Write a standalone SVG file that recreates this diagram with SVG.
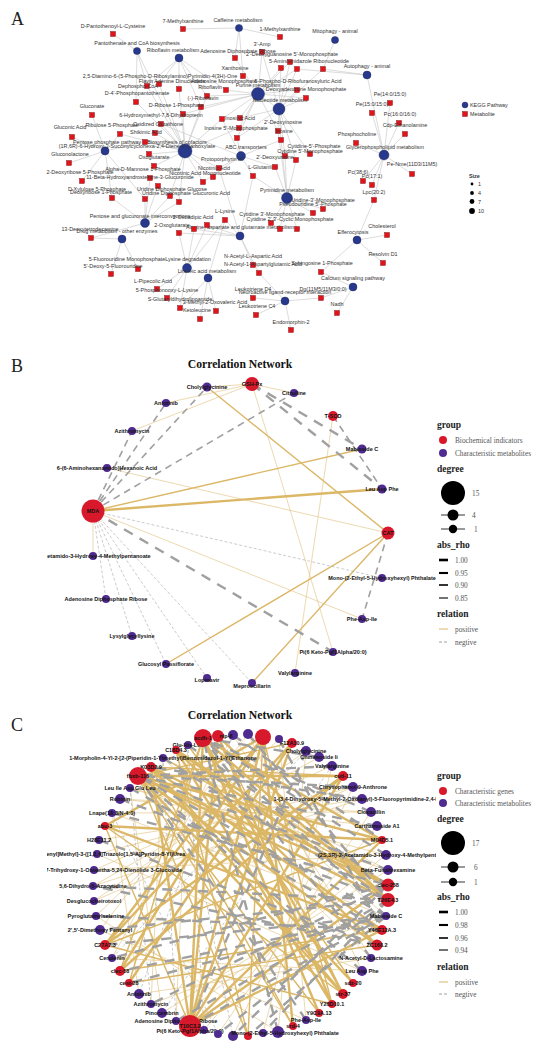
<svg xmlns="http://www.w3.org/2000/svg" width="550" height="1063" viewBox="0 0 550 1063">
<style>
.bg{fill:#fff}
.pl{font-family:"Liberation Serif",serif;font-size:18px;fill:#222}
.al{font-family:"Liberation Sans",Arial,sans-serif;font-size:5.4px;fill:#333;text-anchor:middle}
.ae{stroke:#c4c4c4;stroke-width:0.6;fill:none}
.sq{fill:#e3131b;stroke:#6d0b0b;stroke-width:0.4}
.pw{fill:#28398b;stroke:#16225a;stroke-width:0.4}
.tt{font-family:"Liberation Serif",serif;font-weight:bold;font-size:11.7px;text-anchor:middle;fill:#111}
.nl{font-family:"Liberation Sans",Arial,sans-serif;font-weight:bold;font-size:5.5px;text-anchor:middle;fill:#111}
.rd{fill:#d8192b}
.pu{fill:#4f2a8f}
.p3{stroke:#dbb766;stroke-width:2.4;fill:none}
.p2{stroke:#dbb766;stroke-width:1.4;fill:none}
.p1{stroke:#dfc07a;stroke-width:0.6;fill:none}
.n3{stroke:#a0a0a0;stroke-width:2.4;stroke-dasharray:10 8;fill:none}
.n2{stroke:#a0a0a0;stroke-width:1.6;stroke-dasharray:7 5;fill:none}
.n1{stroke:#a8a8a8;stroke-width:0.6;stroke-dasharray:3 2;fill:none}
.lt{font-family:"Liberation Serif",serif;font-weight:bold;font-size:9.5px;fill:#222}
.ll{font-family:"Liberation Serif",serif;font-size:7.3px;fill:#555}
.sl{font-family:"Liberation Sans",Arial,sans-serif;font-size:5.4px;fill:#333}
</style>
<defs>
<clipPath id="cb"><rect x="47" y="372" width="389" height="330"/></clipPath>
<clipPath id="cc"><rect x="47" y="722" width="389" height="330"/></clipPath>
</defs>
<rect class="bg" x="0" y="0" width="550" height="1063"/>

<!-- ================= PANEL A ================= -->
<text class="pl" x="11" y="25">A</text>
<g id="a-edges">
<path class="ae" d="M239 28L183 29M239 28L280 37M239 28L243 76M239 28L235 58"/>
<path class="ae" d="M137 51L113 34M137 51L136 102M137 51L147 86M137 51L185 151"/>
<path class="ae" d="M179 58L159 84M179 58L179 89M179 58L207 96M179 58L147 86M179 58L201 107M179 58L226 90"/>
<path class="ae" d="M335 40L323 69M367 75L323 69M367 75L297 69M367 75L384 155"/>
<path class="ae" d="M258 94L235 58M258 94L262 52M258 94L290 62M258 94L281 68M258 94L297 69M258 94L243 76M258 94L226 90M258 94L297 90M258 94L306 98M258 94L222 119M258 94L240 118M258 94L239 128M258 94L278 131M258 94L237 138M258 94L207 96M258 94L201 107M258 94L183 114M258 94L279 109"/>
<path class="ae" d="M279 109L262 52M279 109L290 62M279 109L281 68M279 109L297 69M279 109L297 90M279 109L306 98M279 109L278 131M279 109L281 140M279 109L237 138M279 109L285 156M279 109L296 160M279 109L310 154M279 109L323 69M279 109L240 118"/>
<path class="ae" d="M241 156L219 168M241 156L253 176M241 156L275 167M241 156L222 119M241 156L237 138M241 156L161 124M241 156L203 182M241 156L281 140"/>
<path class="ae" d="M185 151L147 86M185 151L159 84M185 151L179 89M185 151L207 96M185 151L201 107M185 151L183 114M185 151L161 124M185 151L155 133M185 151L145 142M185 151L149 154M185 151L154 166M185 151L203 182M185 151L213 177M185 151L219 168M185 151L136 102M185 151L222 119M185 151L120 134M185 151L170 196M185 151L179 202M185 151L239 128"/>
<path class="ae" d="M105 151L92 115M105 151L72 137M105 151L69 163M105 151L120 134M105 151L82 181M105 151L145 142M105 151L112 198M105 151L145 199"/>
<path class="ae" d="M145 223L112 198M145 223L145 199M145 223L170 196M145 223L179 202M145 223L158 186M145 223L150 178M145 223L91 238"/>
<path class="ae" d="M122 239L91 238M122 239L138 269M122 239L111 274"/>
<path class="ae" d="M240 236L207 225M240 236L194 229M240 236L179 233M240 236L253 176M240 236L253 265M240 236L259 273M240 236L225 220M240 236L219 168"/>
<path class="ae" d="M287 198L275 167M287 198L285 156M287 198L296 160M287 198L253 176M287 198L323 209M287 198L313 213M287 198L271 223M287 198L280 229M287 198L297 229M287 198L278 131M287 198L281 140"/>
<path class="ae" d="M187 268L225 220M187 268L179 233M187 268L194 229M187 268L157 289M187 268L167 298M187 268L180 308M187 268L207 225M208 278L200 319M208 278L216 311M208 278L180 308M208 278L225 220"/>
<path class="ae" d="M384 155L372 113M384 155L390 103M384 155L399 123M384 155L405 134M384 155L356 143M384 155L412 174M384 155L363 181M384 155L372 185M384 155L374 200"/>
<path class="ae" d="M357 240L374 200M357 240L387 235M357 240L383 263M357 240L321 272M353 287L321 272M353 287L321 298M353 287L337 313"/>
<path class="ae" d="M285 301L253 298M285 301L256 315M285 301L291 330M285 301L259 273M285 301L321 298"/>
</g>

<g id="a-nodes">
<g id="a-caffeine"><circle class="pw" cx="239" cy="28" r="3.6"/><text class="al" x="238" y="22">Caffeine metabolism</text></g>
<g id="a-pantothenate"><circle class="pw" cx="137" cy="51" r="3.6"/><text class="al" x="137" y="45">Pantothenate and CoA biosynthesis</text></g>
<g id="a-riboflavin-met"><circle class="pw" cx="179" cy="58" r="4"/><text class="al" x="173" y="52">Riboflavin metabolism</text></g>
<g id="a-mitophagy"><circle class="pw" cx="335" cy="40" r="3.6"/><text class="al" x="335" y="33">Mitophagy - animal</text></g>
<g id="a-autophagy"><circle class="pw" cx="367" cy="75" r="4"/><text class="al" x="367" y="68">Autophagy - animal</text></g>
<g id="a-purine"><circle class="pw" cx="258" cy="94" r="6.5"/><text class="al" x="258" y="87">Purine metabolism</text></g>
<g id="a-nucleotide"><circle class="pw" cx="279" cy="109" r="6"/><text class="al" x="280" y="102">Nucleotide metabolism</text></g>
<g id="a-cofactors"><circle class="pw" cx="185" cy="151" r="7"/><text class="al" x="177" y="144">Biosynthesis of cofactors</text></g>
<g id="a-ppp"><circle class="pw" cx="105" cy="151" r="4"/><text class="al" x="107" y="144">Pentose phosphate pathway</text></g>
<g id="a-abc"><circle class="pw" cx="241" cy="156" r="4.5"/><text class="al" x="246" y="149">ABC transporters</text></g>
<g id="a-pyrimidine"><circle class="pw" cx="287" cy="198" r="5.5"/><text class="al" x="287" y="192">Pyrimidine metabolism</text></g>
<g id="a-pentose-gluc"><circle class="pw" cx="145" cy="223" r="4.5"/><text class="al" x="140" y="218">Pentose and glucuronate interconversions</text></g>
<g id="a-drug"><circle class="pw" cx="122" cy="239" r="4"/><text class="al" x="117" y="233">Drug metabolism - other enzymes</text></g>
<g id="a-alanine"><circle class="pw" cx="240" cy="236" r="4"/><text class="al" x="240" y="229">Alanine, aspartate and glutamate metabolism</text></g>
<g id="a-lysine"><circle class="pw" cx="187" cy="268" r="4.5"/><text class="al" x="188" y="261">Lysine degradation</text></g>
<g id="a-linoleic"><circle class="pw" cx="208" cy="278" r="4"/><text class="al" x="207" y="273">Linoleic acid metabolism</text></g>
<g id="a-glycero"><circle class="pw" cx="384" cy="155" r="5"/><text class="al" x="385" y="149">Glycerophospholipid metabolism</text></g>
<g id="a-efferocytosis"><circle class="pw" cx="357" cy="240" r="4"/><text class="al" x="353" y="234">Efferocytosis</text></g>
<g id="a-calcium"><circle class="pw" cx="353" cy="287" r="4"/><text class="al" x="353" y="280">Calcium signaling pathway</text></g>
<g id="a-neuro"><circle class="pw" cx="285" cy="301" r="4"/><text class="al" x="285" y="294">Neuroactive ligand-receptor interaction</text></g>

<g id="a-m1"><rect class="sq" x="110.5" y="31.5" width="5" height="5"/><text class="al" x="113" y="28">D-Pantothenoyl-L-Cysteine</text></g>
<g id="a-m2"><rect class="sq" x="180.5" y="26.5" width="5" height="5"/><text class="al" x="183" y="23">7-Methylxanthine</text></g>
<g id="a-m3"><rect class="sq" x="277.5" y="34.5" width="5" height="5"/><text class="al" x="280" y="31">1-Methylxanthine</text></g>
<g id="a-m4"><rect class="sq" x="259.5" y="49.5" width="5" height="5"/><text class="al" x="262" y="46">3'-Amp</text></g>
<g id="a-m5"><rect class="sq" x="232.5" y="55.5" width="5" height="5"/><text class="al" x="238" y="53">Adenosine Diphosphate Ribose</text></g>
<g id="a-m6"><rect class="sq" x="287.5" y="59.5" width="5" height="5"/><text class="al" x="292" y="56">2'-Deoxyguanosine 5'-Monophosphate</text></g>
<g id="a-m7"><rect class="sq" x="294.5" y="66.5" width="5" height="5"/><text class="al" x="309" y="63">5-Aminoimidazole Ribonucleotide</text></g>
<g id="a-m8"><rect class="sq" x="278.5" y="65.5" width="5" height="5"/></g>
<g id="a-m9"><rect class="sq" x="320.5" y="66.5" width="5" height="5"/></g>
<g id="a-m10"><rect class="sq" x="240.5" y="73.5" width="5" height="5"/><text class="al" x="235" y="70">Xanthosine</text></g>
<g id="a-m11"><rect class="sq" x="156.5" y="81.5" width="5" height="5"/><text class="al" x="160" y="78">2,5-Diamino-6-(5-Phospho-D-Ribosylamino)Pyrimidin-4(3H)-One</text></g>
<g id="a-m12"><rect class="sq" x="176.5" y="86.5" width="5" height="5"/><text class="al" x="172" y="83">Flavin Adenine Dinucleotide</text></g>
<g id="a-m13"><rect class="sq" x="144.5" y="83.5" width="5" height="5"/><text class="al" x="138" y="88">Dephospho-CoA</text></g>
<g id="a-m14"><rect class="sq" x="223.5" y="87.5" width="5" height="5"/><text class="al" x="224" y="83">Adenosine Monophosphate</text></g>
<g id="a-m15"><rect class="sq" x="204.5" y="93.5" width="5" height="5"/><text class="al" x="210" y="89">Riboflavin</text></g>
<g id="a-m16"><rect class="sq" x="198.5" y="104.5" width="5" height="5"/><text class="al" x="203" y="100">(-)-Riboflavin</text></g>
<g id="a-m17"><rect class="sq" x="133.5" y="99.5" width="5" height="5"/><text class="al" x="137" y="95">D-4'-Phosphopantothenate</text></g>
<g id="a-m18"><rect class="sq" x="180.5" y="111.5" width="5" height="5"/><text class="al" x="176" y="107">D-Ribose 1-Phosphate</text></g>
<g id="a-m19"><rect class="sq" x="89.5" y="112.5" width="5" height="5"/><text class="al" x="92" y="108">Gluconate</text></g>
<g id="a-m20"><rect class="sq" x="158.5" y="121.5" width="5" height="5"/><text class="al" x="161" y="117">6-Hydroxymethyl-7,8-Dihydropterin</text></g>
<g id="a-m21"><rect class="sq" x="152.5" y="130.5" width="5" height="5"/><text class="al" x="158" y="126">Oxidized Glutathione</text></g>
<g id="a-m22"><rect class="sq" x="142.5" y="139.5" width="5" height="5"/><text class="al" x="146" y="134">Shikimic Acid</text></g>
<g id="a-m23"><rect class="sq" x="146.5" y="151.5" width="5" height="5"/><text class="al" x="137" y="148">(1R,6R)-6-Hydroxy-2-Succinylcyclohexa-2,4-Diene-1-Carboxylate</text></g>
<g id="a-m24"><rect class="sq" x="69.5" y="134.5" width="5" height="5"/><text class="al" x="70" y="129">Gluconic Acid</text></g>
<g id="a-m25"><rect class="sq" x="117.5" y="131.5" width="5" height="5"/><text class="al" x="112" y="127">Ribulose 5-Phosphate</text></g>
<g id="a-m26"><rect class="sq" x="66.5" y="160.5" width="5" height="5"/><text class="al" x="70" y="156">Gluconolactone</text></g>
<g id="a-m27"><rect class="sq" x="151.5" y="163.5" width="5" height="5"/><text class="al" x="154" y="159">Oxoglutarate</text></g>
<g id="a-m28"><rect class="sq" x="147.5" y="175.5" width="5" height="5"/><text class="al" x="143" y="171">Alpha-D-Mannose 1-Phosphate</text></g>
<g id="a-m29"><rect class="sq" x="155.5" y="183.5" width="5" height="5"/><text class="al" x="140" y="179">11-Beta-Hydroxyandrosterone-3-Glucuronide</text></g>
<g id="a-m30"><rect class="sq" x="79.5" y="178.5" width="5" height="5"/><text class="al" x="80" y="174">2-Deoxyribose 5-Phosphate</text></g>
<g id="a-m31"><rect class="sq" x="109.5" y="195.5" width="5" height="5"/><text class="al" x="97" y="191">D-Xylulose 5-Phosphate</text></g>
<g id="a-m32"><rect class="sq" x="142.5" y="196.5" width="5" height="5"/><text class="al" x="101" y="194">Deoxyribose 1-Phosphate</text></g>
<g id="a-m33"><rect class="sq" x="167.5" y="193.5" width="5" height="5"/><text class="al" x="172" y="191">Uridine Diphosphate Glucose</text></g>
<g id="a-m34"><rect class="sq" x="176.5" y="199.5" width="5" height="5"/><text class="al" x="186" y="195">Uridine Diphosphate Glucuronic Acid</text></g>
<g id="a-m35"><rect class="sq" x="216.5" y="165.5" width="5" height="5"/><text class="al" x="222" y="161">Protoporphyrin IX</text></g>
<g id="a-m36"><rect class="sq" x="210.5" y="174.5" width="5" height="5"/><text class="al" x="214" y="170">Nicotinic Acid</text></g>
<g id="a-m37"><rect class="sq" x="200.5" y="179.5" width="5" height="5"/><text class="al" x="205" y="175">Nicotinic Acid Mononucleotide</text></g>
<g id="a-m38"><rect class="sq" x="250.5" y="173.5" width="5" height="5"/><text class="al" x="263" y="169">L-Glutamine</text></g>
<g id="a-m39"><rect class="sq" x="237.5" y="115.5" width="5" height="5"/><text class="al" x="240" y="120">Inosinic Acid</text></g>
<g id="a-m40"><rect class="sq" x="219.5" y="116.5" width="5" height="5"/></g>
<g id="a-m41"><rect class="sq" x="236.5" y="125.5" width="5" height="5"/><text class="al" x="236" y="130">Inosine 5'-Monophosphate</text></g>
<g id="a-m42"><rect class="sq" x="234.5" y="135.5" width="5" height="5"/></g>
<g id="a-m43"><rect class="sq" x="275.5" y="128.5" width="5" height="5"/><text class="al" x="283" y="124">2'-Deoxyinosine</text></g>
<g id="a-m44"><rect class="sq" x="278.5" y="137.5" width="5" height="5"/><text class="al" x="284" y="133">Inosine</text></g>
<g id="a-m45"><rect class="sq" x="294.5" y="87.5" width="5" height="5"/><text class="al" x="306" y="91">Deoxyadenosine Monophosphate</text></g>
<g id="a-m46"><rect class="sq" x="303.5" y="95.5" width="5" height="5"/><text class="al" x="298" y="83">5-Phospho-D-Ribofuranosyluric Acid</text></g>
<g id="a-m47"><rect class="sq" x="307.5" y="151.5" width="5" height="5"/><text class="al" x="314" y="148">Cytidine-5'-Phosphate</text></g>
<g id="a-m48"><rect class="sq" x="293.5" y="157.5" width="5" height="5"/><text class="al" x="310" y="153">Cytidine 5'-Monophosphate</text></g>
<g id="a-m49"><rect class="sq" x="282.5" y="153.5" width="5" height="5"/><text class="al" x="275" y="159">2'-Deoxyuridine</text></g>
<g id="a-m50"><rect class="sq" x="272.5" y="164.5" width="5" height="5"/></g>
<g id="a-m51"><rect class="sq" x="387.5" y="100.5" width="5" height="5"/><text class="al" x="390" y="96">Pe(14:0/15:0)</text></g>
<g id="a-m52"><rect class="sq" x="369.5" y="110.5" width="5" height="5"/><text class="al" x="372" y="106">Pe(15:0/15:0)</text></g>
<g id="a-m53"><rect class="sq" x="396.5" y="120.5" width="5" height="5"/><text class="al" x="400" y="116">Pc(16:0/16:0)</text></g>
<g id="a-m54"><rect class="sq" x="402.5" y="131.5" width="5" height="5"/><text class="al" x="405" y="127">Cdp-Ethanolamine</text></g>
<g id="a-m55"><rect class="sq" x="353.5" y="140.5" width="5" height="5"/><text class="al" x="357" y="136">Phosphocholine</text></g>
<g id="a-m56"><rect class="sq" x="409.5" y="171.5" width="5" height="5"/><text class="al" x="412" y="166">Pe-Nme(11D3/11M5)</text></g>
<g id="a-m57"><rect class="sq" x="360.5" y="178.5" width="5" height="5"/><text class="al" x="358" y="174">Pc(38:6)</text></g>
<g id="a-m58"><rect class="sq" x="369.5" y="182.5" width="5" height="5"/><text class="al" x="372" y="178">Pc(17:1)</text></g>
<g id="a-m59"><rect class="sq" x="371.5" y="197.5" width="5" height="5"/><text class="al" x="374" y="194">Lpc(20:2)</text></g>
<g id="a-m60"><rect class="sq" x="320.5" y="206.5" width="5" height="5"/><text class="al" x="323" y="202">Uridine-3'-Monophosphate</text></g>
<g id="a-m61"><rect class="sq" x="310.5" y="210.5" width="5" height="5"/><text class="al" x="313" y="206">Pseudouridine 5'-Phosphate</text></g>
<g id="a-m62"><rect class="sq" x="268.5" y="220.5" width="5" height="5"/><text class="al" x="272" y="216">Cytidine 3'-Monophosphate</text></g>
<g id="a-m63"><rect class="sq" x="277.5" y="226.5" width="5" height="5"/><text class="al" x="290" y="221">Cytidine 2',3'-Cyclic Monophosphate</text></g>
<g id="a-m64"><rect class="sq" x="294.5" y="226.5" width="5" height="5"/></g>
<g id="a-m65"><rect class="sq" x="222.5" y="217.5" width="5" height="5"/><text class="al" x="225" y="213">L-Lysine</text></g>
<g id="a-m66"><rect class="sq" x="204.5" y="222.5" width="5" height="5"/><text class="al" x="193" y="219">2-Oxoadipic Acid</text></g>
<g id="a-m67"><rect class="sq" x="191.5" y="226.5" width="5" height="5"/></g>
<g id="a-m68"><rect class="sq" x="176.5" y="230.5" width="5" height="5"/><text class="al" x="172" y="227">2-Oxoglutarate</text></g>
<g id="a-m69"><rect class="sq" x="88.5" y="235.5" width="5" height="5"/><text class="al" x="90" y="231">13-Deoxytetrodecamine</text></g>
<g id="a-m70"><rect class="sq" x="135.5" y="266.5" width="5" height="5"/><text class="al" x="127" y="261">5-Fluorouridine Monophosphate</text></g>
<g id="a-m71"><rect class="sq" x="108.5" y="271.5" width="5" height="5"/><text class="al" x="113" y="268">5'-Deoxy-5-Fluorouridine</text></g>
<g id="a-m72"><rect class="sq" x="154.5" y="286.5" width="5" height="5"/><text class="al" x="153" y="283">L-Pipecolic Acid</text></g>
<g id="a-m73"><rect class="sq" x="164.5" y="295.5" width="5" height="5"/><text class="al" x="167" y="292">5-Phosphonooxy-L-Lysine</text></g>
<g id="a-m74"><rect class="sq" x="177.5" y="305.5" width="5" height="5"/><text class="al" x="180" y="301">S-Glutaryldihydrolipoamide</text></g>
<g id="a-m75"><rect class="sq" x="213.5" y="308.5" width="5" height="5"/><text class="al" x="215" y="304">3-Methyl-2-Oxovaleric Acid</text></g>
<g id="a-m76"><rect class="sq" x="197.5" y="316.5" width="5" height="5"/><text class="al" x="197" y="312">Ketoleucine</text></g>
<g id="a-m77"><rect class="sq" x="250.5" y="262.5" width="5" height="5"/><text class="al" x="253" y="258">N-Acetyl-L-Aspartic Acid</text></g>
<g id="a-m78"><rect class="sq" x="256.5" y="270.5" width="5" height="5"/><text class="al" x="263" y="266">N-Acetyl-1-Aspartylglutamic Acid</text></g>
<g id="a-m79"><rect class="sq" x="318.5" y="269.5" width="5" height="5"/><text class="al" x="322" y="265">Sphingosine 1-Phosphate</text></g>
<g id="a-m80"><rect class="sq" x="250.5" y="295.5" width="5" height="5"/><text class="al" x="253" y="291">Leukotriene D4</text></g>
<g id="a-m81"><rect class="sq" x="318.5" y="295.5" width="5" height="5"/><text class="al" x="323" y="291">Dg(11M5/11M3/0:0)</text></g>
<g id="a-m82"><rect class="sq" x="253.5" y="312.5" width="5" height="5"/><text class="al" x="257" y="308">Leukotriene C4</text></g>
<g id="a-m83"><rect class="sq" x="334.5" y="310.5" width="5" height="5"/><text class="al" x="337" y="306">Nadh</text></g>
<g id="a-m84"><rect class="sq" x="288.5" y="327.5" width="5" height="5"/><text class="al" x="291" y="324">Endomorphin-2</text></g>
<g id="a-m85"><rect class="sq" x="380.5" y="260.5" width="5" height="5"/><text class="al" x="383" y="256">Resolvin D1</text></g>
<g id="a-m86"><rect class="sq" x="384.5" y="232.5" width="5" height="5"/><text class="al" x="382" y="228">Cholesterol</text></g>
</g>

<g id="a-legend">
<circle class="pw" cx="465" cy="105" r="3"/><text class="sl" x="470" y="107">KEGG Pathway</text>
<rect class="sq" x="462.5" y="111.5" width="5" height="5"/><text class="sl" x="470" y="116">Metabolite</text>
<text class="sl" x="469" y="178" font-weight="bold">Size</text>
<circle cx="472" cy="184" r="1.4" fill="#000"/><text class="sl" x="478" y="186">1</text>
<circle cx="472" cy="193" r="1.9" fill="#000"/><text class="sl" x="478" y="195">4</text>
<circle cx="472" cy="201.5" r="2.4" fill="#000"/><text class="sl" x="478" y="203.5">7</text>
<circle cx="472" cy="211" r="2.9" fill="#000"/><text class="sl" x="478" y="213">10</text>
</g>

<!-- ================= PANEL B ================= -->
<text class="pl" x="11" y="372">B</text>
<text class="tt" x="240" y="368">Correlation Network</text>
<g id="b-edges" clip-path="url(#cb)">
<line class="p1" x1="207" y1="387" x2="252" y2="384" stroke-width="1.2"/>
<line class="p1" x1="166" y1="403" x2="252" y2="384" stroke-width="1.2"/>
<line class="p1" x1="132" y1="431" x2="252" y2="384" stroke-width="1"/>
<line class="p2" x1="207" y1="387" x2="388" y2="533" stroke-width="2.2"/>
<line class="p1" x1="252" y1="384" x2="294" y2="393" stroke-width="1"/>
<line class="p1" x1="252" y1="384" x2="333" y2="652" stroke-width="1.2"/>
<line class="p1" x1="333" y1="416" x2="295" y2="673" stroke-width="1.2"/>
<line class="p2" x1="93" y1="511" x2="362" y2="449" stroke-width="1.5"/>
<line class="p3" x1="93" y1="511" x2="382" y2="489" stroke-width="3"/>
<line class="p1" x1="93" y1="511" x2="93" y2="556" stroke-width="1"/>
<line class="p1" x1="93" y1="511" x2="362" y2="619" stroke-width="1"/>
<line class="p1" x1="107" y1="468" x2="388" y2="533" stroke-width="1.2"/>
<line class="p2" x1="166" y1="664" x2="388" y2="533" stroke-width="1.8"/>
<line class="p2" x1="252" y1="683" x2="388" y2="533" stroke-width="1.5"/>
<line class="n2" x1="93" y1="511" x2="207" y2="387"/>
<line class="n2" x1="93" y1="511" x2="166" y2="403"/>
<line class="n2" x1="93" y1="511" x2="132" y2="431" stroke-width="2"/>
<line class="n2" x1="93" y1="511" x2="294" y2="393" stroke-width="2"/>
<line class="n3" x1="93" y1="511" x2="333" y2="652" stroke-width="2.2"/>
<line class="n1" x1="93" y1="511" x2="382" y2="578"/>
<line class="n1" x1="93" y1="511" x2="106" y2="599"/>
<line class="n1" x1="93" y1="511" x2="132" y2="636"/>
<line class="n1" x1="93" y1="511" x2="166" y2="664"/>
<line class="n1" x1="93" y1="511" x2="207" y2="678"/>
<line class="n1" x1="93" y1="511" x2="252" y2="683"/>
<line class="n3" x1="252" y1="384" x2="362" y2="449" stroke-width="2.2"/>
<line class="n3" x1="252" y1="384" x2="382" y2="489" stroke-width="2.2"/>
<line class="n2" x1="333" y1="416" x2="382" y2="489" stroke-width="1.8"/>
<line class="n2" x1="388" y1="533" x2="362" y2="619" stroke-width="1.8"/>
</g>
<g id="b-nodes" clip-path="url(#cb)">
<g id="b-cholyl"><circle class="pu" cx="207" cy="387" r="4.5"/><text class="nl" x="207" y="389">Cholylglycinine</text></g>
<g id="b-gshpx"><circle class="rd" cx="252" cy="384" r="7"/><text class="nl" x="252" y="386">GSH-Px</text></g>
<g id="b-citrulline"><circle class="pu" cx="294" cy="393" r="4"/><text class="nl" x="294" y="395">Citrulline</text></g>
<g id="b-tsod"><circle class="rd" cx="333" cy="416" r="5"/><text class="nl" x="333" y="418">T-SOD</text></g>
<g id="b-mabioside"><circle class="pu" cx="362" cy="449" r="4.5"/><text class="nl" x="362" y="451">Mabioside C</text></g>
<g id="b-leuaspphe"><circle class="pu" cx="382" cy="489" r="4.5"/><text class="nl" x="382" y="491">Leu Asp Phe</text></g>
<g id="b-cat"><circle class="rd" cx="388" cy="533" r="6.5"/><text class="nl" x="388" y="535">CAT</text></g>
<g id="b-mono"><circle class="pu" cx="382" cy="578" r="4"/><text class="nl" x="382" y="580">Mono-(2-Ethyl-5-Hydroxyhexyl) Phthalate</text></g>
<g id="b-pheaspile"><circle class="pu" cx="362" cy="619" r="4"/><text class="nl" x="362" y="621">Phe-Asp-Ile</text></g>
<g id="b-pi"><circle class="pu" cx="333" cy="652" r="4"/><text class="nl" x="333" y="654">Pi(6 Keto-Pgf1Alpha/20:0)</text></g>
<g id="b-valylarginine"><circle class="pu" cx="295" cy="673" r="4"/><text class="nl" x="295" y="675">Valylarginine</text></g>
<g id="b-meproscillarin"><circle class="pu" cx="252" cy="683" r="4"/><text class="nl" x="252" y="688">Meproscillarin</text></g>
<g id="b-lopinavir"><circle class="pu" cx="207" cy="678" r="4"/><text class="nl" x="207" y="682">Lopinavir</text></g>
<g id="b-glucosyl"><circle class="pu" cx="166" cy="664" r="4"/><text class="nl" x="166" y="666">Glucosyl Passiflorate</text></g>
<g id="b-lysyl"><circle class="pu" cx="132" cy="636" r="4"/><text class="nl" x="132" y="638">Lysylglycyllysine</text></g>
<g id="b-adpr"><circle class="pu" cx="106" cy="599" r="4"/><text class="nl" x="106" y="601">Adenosine Diphosphate Ribose</text></g>
<g id="b-acetamido"><circle class="pu" cx="93" cy="556" r="4"/><text class="nl" x="93" y="558">2-Acetamido-3-Hydroxy-4-Methylpentanoate</text></g>
<g id="b-mda"><circle class="rd" cx="93" cy="511" r="11.5"/><text class="nl" x="93" y="513">MDA</text></g>
<g id="b-aminohex"><circle class="pu" cx="107" cy="468" r="4"/><text class="nl" x="107" y="470">6-(6-Aminohexanamido)Hexanoic Acid</text></g>
<g id="b-azithromycin"><circle class="pu" cx="132" cy="431" r="4"/><text class="nl" x="132" y="433">Azithromycin</text></g>
<g id="b-anlotinib"><circle class="pu" cx="166" cy="403" r="4"/><text class="nl" x="166" y="405">Anlotinib</text></g>
</g>
<g id="b-legend">
<text class="lt" x="437" y="428">group</text>
<circle class="rd" cx="443" cy="440" r="4"/><text class="ll" x="455" y="443">Biochemical indicators</text>
<circle class="pu" cx="443" cy="453" r="4"/><text class="ll" x="455" y="456">Characteristic metabolites</text>
<text class="lt" x="437" y="472">degree</text>
<circle cx="453" cy="493" r="12" fill="#000"/><text class="ll" x="472" y="496">15</text>
<line x1="441" y1="515" x2="465" y2="515" stroke="#000" stroke-width="0.8"/><circle cx="453" cy="515" r="5.5" fill="#000"/><text class="ll" x="472" y="517.5">4</text>
<line x1="441" y1="529" x2="465" y2="529" stroke="#000" stroke-width="0.8"/><circle cx="453" cy="529" r="4.2" fill="#000"/><text class="ll" x="474" y="531.5">1</text>
<text class="lt" x="437" y="548">abs_rho</text>
<line x1="439" y1="560" x2="448" y2="560" stroke="#000" stroke-width="2.6"/><text class="ll" x="455" y="562.5">1.00</text>
<line x1="439" y1="573" x2="448" y2="573" stroke="#000" stroke-width="2.1"/><text class="ll" x="455" y="575.5">0.95</text>
<line x1="439" y1="585" x2="448" y2="585" stroke="#000" stroke-width="1.6"/><text class="ll" x="455" y="587.5">0.90</text>
<line x1="439" y1="598" x2="448" y2="598" stroke="#000" stroke-width="1.1"/><text class="ll" x="455" y="600.5">0.85</text>
<text class="lt" x="437" y="617">relation</text>
<line x1="439" y1="629" x2="448" y2="629" stroke="#dbb766" stroke-width="1"/><text class="ll" x="455" y="631.5">positive</text>
<line x1="439" y1="642" x2="448" y2="642" stroke="#a0a0a0" stroke-width="1" stroke-dasharray="3 2"/><text class="ll" x="455" y="644.5">negtive</text>
</g>

<!-- ================= PANEL C ================= -->
<text class="pl" x="11" y="731">C</text>
<text class="tt" x="240" y="719">Correlation Network</text>
<g id="c-edges" clip-path="url(#cc)">
<line class="p1" x1="163" y1="758" x2="371" y2="958"/><line class="p1" x1="130" y1="788" x2="388" y2="870"/><line class="p1" x1="120" y1="799" x2="371" y2="812"/><line class="p1" x1="112" y1="813" x2="386" y2="916"/><line class="p1" x1="97" y1="854" x2="362" y2="971"/><line class="p1" x1="94" y1="870" x2="386" y2="855"/><line class="p1" x1="93" y1="886" x2="362" y2="799"/><line class="p1" x1="94" y1="901" x2="353" y2="787"/><line class="p1" x1="188" y1="745" x2="176" y2="1021"/><line class="p1" x1="163" y1="758" x2="151" y2="1004"/><line class="p1" x1="130" y1="788" x2="162" y2="1013"/><line class="p1" x1="112" y1="813" x2="139" y2="994"/><line class="p1" x1="233" y1="735" x2="112" y2="958"/><line class="p1" x1="248" y1="734" x2="100" y2="930"/><line class="p1" x1="279" y1="739" x2="96" y2="916"/><line class="p1" x1="306" y1="751" x2="94" y2="901"/><line class="p1" x1="319" y1="757" x2="93" y2="886"/><line class="p1" x1="332" y1="766" x2="94" y2="870"/><line class="p1" x1="353" y1="787" x2="97" y2="854"/><line class="p1" x1="362" y1="799" x2="99" y2="840"/><line class="p1" x1="371" y1="812" x2="112" y2="813"/><line class="p1" x1="377" y1="826" x2="120" y2="799"/><line class="p1" x1="386" y1="855" x2="130" y2="788"/><line class="p1" x1="388" y1="870" x2="163" y2="758"/><line class="p1" x1="386" y1="916" x2="188" y2="745"/><line class="p1" x1="371" y1="958" x2="233" y2="735"/><line class="p1" x1="362" y1="971" x2="248" y2="734"/><line class="p1" x1="306" y1="1020" x2="279" y2="739"/><line class="p1" x1="278" y1="1032" x2="306" y2="751"/><line class="p1" x1="263" y1="1033" x2="332" y2="766"/><line class="p1" x1="233" y1="1036" x2="353" y2="787"/><line class="p1" x1="218" y1="1034" x2="371" y2="812"/><line class="p1" x1="204" y1="1030" x2="377" y2="826"/><line class="p1" x1="176" y1="1021" x2="386" y2="855"/><line class="p1" x1="162" y1="1013" x2="388" y2="870"/><line class="p1" x1="151" y1="1004" x2="386" y2="916"/><line class="p1" x1="139" y1="994" x2="371" y2="958"/><line class="p1" x1="112" y1="958" x2="362" y2="971"/><line class="p1" x1="100" y1="930" x2="306" y2="1020"/><line class="p1" x1="96" y1="916" x2="278" y2="1032"/>
<line class="n1" x1="163" y1="758" x2="176" y2="1021"/><line class="n1" x1="188" y1="745" x2="204" y2="1030"/><line class="n1" x1="176" y1="750" x2="233" y2="1036"/><line class="n1" x1="130" y1="788" x2="151" y2="1004"/><line class="n1" x1="233" y1="735" x2="139" y2="994"/><line class="n1" x1="112" y1="813" x2="218" y2="1034"/><line class="n1" x1="332" y1="766" x2="162" y2="1013"/><line class="n1" x1="306" y1="751" x2="112" y2="958"/>
<line class="p2" x1="138" y1="776" x2="248" y2="1036"/><line class="p2" x1="138" y1="776" x2="293" y2="1026"/><line class="p2" x1="203" y1="738" x2="129" y2="983"/><line class="p2" x1="203" y1="738" x2="120" y2="971"/><line class="p2" x1="263" y1="737" x2="332" y2="1004"/><line class="p2" x1="263" y1="737" x2="248" y2="1036"/><line class="p2" x1="292" y1="743" x2="138" y2="776"/><line class="p2" x1="343" y1="776" x2="151" y2="767"/><line class="p2" x1="382" y1="840" x2="105" y2="945"/><line class="p2" x1="382" y1="930" x2="120" y2="971"/><line class="p2" x1="377" y1="945" x2="129" y2="983"/><line class="p2" x1="343" y1="994" x2="105" y2="826"/><line class="p2" x1="332" y1="1004" x2="105" y2="945"/><line class="p2" x1="319" y1="1013" x2="138" y2="776"/><line class="p2" x1="293" y1="1026" x2="151" y2="767"/><line class="p2" x1="248" y1="1036" x2="176" y2="750"/><line class="p2" x1="190" y1="1026" x2="105" y2="826"/><line class="p2" x1="218" y1="736" x2="343" y2="994"/><line class="p2" x1="188" y1="745" x2="353" y2="983"/><line class="p2" x1="163" y1="758" x2="388" y2="885"/>
<line class="p3" x1="138" y1="776" x2="388" y2="885"/><line class="p3" x1="138" y1="776" x2="388" y2="900"/><line class="p3" x1="138" y1="776" x2="377" y2="945"/><line class="p3" x1="138" y1="776" x2="343" y2="994"/><line class="p3" x1="138" y1="776" x2="343" y2="776"/><line class="p3" x1="203" y1="738" x2="190" y2="1026"/><line class="p3" x1="203" y1="738" x2="388" y2="900"/><line class="p3" x1="203" y1="738" x2="343" y2="994"/><line class="p3" x1="263" y1="737" x2="190" y2="1026"/><line class="p3" x1="263" y1="737" x2="120" y2="971"/><line class="p3" x1="263" y1="737" x2="105" y2="945"/><line class="p3" x1="190" y1="1026" x2="151" y2="767"/><line class="p3" x1="190" y1="1026" x2="292" y2="743"/><line class="p3" x1="190" y1="1026" x2="343" y2="776"/><line class="p3" x1="190" y1="1026" x2="388" y2="885"/><line class="p3" x1="388" y1="885" x2="151" y2="767"/><line class="p3" x1="388" y1="900" x2="176" y2="750"/><line class="p3" x1="151" y1="767" x2="382" y2="930"/><line class="p3" x1="151" y1="767" x2="353" y2="983"/><line class="p3" x1="203" y1="738" x2="319" y2="1013"/><line class="p3" x1="263" y1="737" x2="293" y2="1026"/><line class="p3" x1="138" y1="776" x2="382" y2="840"/><line class="p3" x1="218" y1="736" x2="190" y2="1026"/><line class="p3" x1="176" y1="750" x2="377" y2="945"/><line class="p3" x1="292" y1="743" x2="129" y2="983"/><line class="p3" x1="343" y1="776" x2="105" y2="945"/><line class="p3" x1="382" y1="840" x2="105" y2="826"/><line class="p3" x1="382" y1="930" x2="105" y2="826"/><line class="p3" x1="218" y1="736" x2="332" y2="1004"/><line class="p3" x1="176" y1="750" x2="332" y2="1004"/><line class="p3" x1="151" y1="767" x2="343" y2="994"/><line class="p3" x1="203" y1="738" x2="382" y2="840"/><line class="p3" x1="263" y1="737" x2="105" y2="826"/><line class="p3" x1="292" y1="743" x2="105" y2="945"/><line class="p3" x1="343" y1="776" x2="120" y2="971"/><line class="p3" x1="190" y1="1026" x2="382" y2="930"/><line class="p3" x1="190" y1="1026" x2="382" y2="840"/><line class="p3" x1="388" y1="900" x2="218" y2="736"/><line class="p3" x1="388" y1="885" x2="176" y2="750"/>
<line class="n3" x1="388" y1="900" x2="100" y2="930"/><line class="n3" x1="388" y1="900" x2="93" y2="886"/><line class="n3" x1="388" y1="885" x2="112" y2="958"/><line class="n3" x1="388" y1="885" x2="151" y2="1004"/><line class="n3" x1="386" y1="916" x2="120" y2="971"/><line class="n3" x1="386" y1="916" x2="105" y2="945"/><line class="n3" x1="386" y1="916" x2="129" y2="983"/><line class="n3" x1="386" y1="916" x2="190" y2="1026"/><line class="n3" x1="386" y1="916" x2="203" y2="738"/><line class="n3" x1="386" y1="916" x2="138" y2="776"/><line class="n3" x1="388" y1="900" x2="176" y2="1021"/><line class="n3" x1="388" y1="900" x2="218" y2="1034"/><line class="n3" x1="388" y1="900" x2="263" y2="1033"/><line class="n3" x1="388" y1="885" x2="233" y2="1036"/><line class="n3" x1="386" y1="916" x2="248" y2="1036"/><line class="n3" x1="382" y1="930" x2="96" y2="916"/><line class="n3" x1="377" y1="945" x2="93" y2="886"/><line class="n3" x1="388" y1="870" x2="138" y2="776"/><line class="n3" x1="386" y1="855" x2="203" y2="738"/><line class="n3" x1="377" y1="826" x2="138" y2="776"/><line class="n3" x1="371" y1="812" x2="203" y2="738"/><line class="n3" x1="353" y1="787" x2="138" y2="776"/><line class="n3" x1="362" y1="799" x2="151" y2="767"/><line class="n3" x1="332" y1="766" x2="138" y2="776"/><line class="n3" x1="319" y1="757" x2="203" y2="738"/><line class="n3" x1="306" y1="751" x2="190" y2="1026"/><line class="n3" x1="233" y1="735" x2="382" y2="840"/><line class="n3" x1="248" y1="734" x2="388" y2="900"/><line class="n3" x1="279" y1="739" x2="382" y2="930"/><line class="n3" x1="188" y1="745" x2="388" y2="885"/><line class="n3" x1="163" y1="758" x2="388" y2="900"/><line class="n3" x1="130" y1="788" x2="382" y2="930"/><line class="n3" x1="112" y1="813" x2="388" y2="885"/><line class="n3" x1="120" y1="799" x2="388" y2="900"/><line class="n3" x1="99" y1="840" x2="377" y2="945"/><line class="n3" x1="306" y1="1020" x2="138" y2="776"/><line class="n3" x1="278" y1="1032" x2="203" y2="738"/><line class="n3" x1="362" y1="971" x2="138" y2="776"/><line class="n3" x1="371" y1="958" x2="203" y2="738"/>
</g>
<g id="c-nodes" clip-path="url(#cc)">
<g id="c62"><circle class="pu" cx="188" cy="745" r="4"/><text class="nl" x="188" y="747">Glu-His-Leu</text></g>
<g id="c61"><circle class="rd" cx="176" cy="750" r="4"/><text class="nl" x="176" y="752">C18D4.3</text></g>
<g id="c60"><circle class="pu" cx="163" cy="758" r="4"/><text class="nl" x="163" y="760">1-Morpholin-4-Yl-2-[2-(Piperidin-1-Ylmethyl)Benzimidazol-1-Yl]Ethanone</text></g>
<g id="c59"><circle class="rd" cx="151" cy="767" r="5"/><text class="nl" x="151" y="769">K03D2.9</text></g>
<g id="c58"><circle class="rd" cx="138" cy="776" r="9"/><text class="nl" x="138" y="778">fbxb-116</text></g>
<g id="c57"><circle class="pu" cx="130" cy="788" r="4"/><text class="nl" x="130" y="790">Leu Ile Asp Glu Leu</text></g>
<g id="c56"><circle class="pu" cx="120" cy="799" r="5"/><text class="nl" x="120" y="801">Robinin</text></g>
<g id="c55"><circle class="pu" cx="112" cy="813" r="4"/><text class="nl" x="112" y="815">Lnape(18:3/N-4:0)</text></g>
<g id="c54"><circle class="rd" cx="105" cy="826" r="4"/><text class="nl" x="105" y="828">abu-3</text></g>
<g id="c53"><circle class="pu" cx="99" cy="840" r="4"/><text class="nl" x="99" y="842">H28E11.2</text></g>
<g id="c52"><circle class="pu" cx="97" cy="854" r="4"/><text class="nl" x="97" y="856">1-[[4-Methylphenyl]Methyl]-3-([1,2,4]Triazolo[1,5-A]Pyridin-8-Yl)Urea</text></g>
<g id="c51"><circle class="pu" cx="94" cy="870" r="4"/><text class="nl" x="94" y="872">5Beta,6Alpha,27-Trihydroxy-1-Oxowitha-5,24-Dienolide 3-Glucoside</text></g>
<g id="c50"><circle class="pu" cx="93" cy="886" r="4"/><text class="nl" x="93" y="888">5,6-Dihydro-5-Azacytidine</text></g>
<g id="c49"><circle class="pu" cx="94" cy="901" r="4"/><text class="nl" x="94" y="903">Desglucocheirotoxol</text></g>
<g id="c48"><circle class="pu" cx="96" cy="916" r="4"/><text class="nl" x="96" y="918">Pyroglutamylselenine</text></g>
<g id="c47"><circle class="pu" cx="100" cy="930" r="5"/><text class="nl" x="100" y="932">2',5'-Dimethoxy Fentanyl</text></g>
<g id="c46"><circle class="rd" cx="105" cy="945" r="5"/><text class="nl" x="105" y="947">C27A7.3</text></g>
<g id="c45"><circle class="pu" cx="112" cy="958" r="4"/><text class="nl" x="112" y="960">Cerulenin</text></g>
<g id="c44"><circle class="rd" cx="120" cy="971" r="5"/><text class="nl" x="120" y="973">clec-58</text></g>
<g id="c43"><circle class="rd" cx="129" cy="983" r="4"/><text class="nl" x="129" y="985">cest-28</text></g>
<g id="c42"><circle class="pu" cx="139" cy="994" r="5"/><text class="nl" x="139" y="996">Anlotinib</text></g>
<g id="c41"><circle class="pu" cx="151" cy="1004" r="4"/><text class="nl" x="151" y="1006">Azithromycin</text></g>
<g id="c40"><circle class="pu" cx="162" cy="1013" r="5"/><text class="nl" x="162" y="1015">Pinocembrin</text></g>
<g id="c39"><circle class="pu" cx="176" cy="1021" r="4"/><text class="nl" x="176" y="1023">Adenosine Diphosphate Ribose</text></g>
<g id="c38"><circle class="rd" cx="190" cy="1026" r="11"/><text class="nl" x="190" y="1028">T10C3.2</text></g>
<g id="c37"><circle class="pu" cx="204" cy="1030" r="4"/><text class="nl" x="190" y="1033">Pi(6 Keto-Pgf1Alpha/20:0)</text></g>
<g id="c36"><circle class="pu" cx="218" cy="1034" r="4"/></g>
<g id="c35"><circle class="pu" cx="233" cy="1036" r="5"/></g>
<g id="c34"><circle class="rd" cx="248" cy="1036" r="4"/></g>
<g id="c33"><circle class="pu" cx="263" cy="1033" r="4"/></g>
<g id="c32"><circle class="pu" cx="278" cy="1032" r="6"/><text class="nl" x="285" y="1035">Mono-(2-Ethyl-5-Hydroxyhexyl) Phthalate</text></g>
<g id="c31"><circle class="rd" cx="293" cy="1026" r="4"/><text class="nl" x="293" y="1028">srd-4</text></g>
<g id="c30"><circle class="pu" cx="306" cy="1020" r="4"/><text class="nl" x="306" y="1022">Phe-Asp-Ile</text></g>
<g id="c29"><circle class="rd" cx="319" cy="1013" r="4"/><text class="nl" x="319" y="1015">Y9C9A.13</text></g>
<g id="c28"><circle class="rd" cx="332" cy="1004" r="4"/><text class="nl" x="332" y="1006">Y26D10.1</text></g>
<g id="c27"><circle class="rd" cx="343" cy="994" r="5"/><text class="nl" x="343" y="996">str-37</text></g>
<g id="c26"><circle class="rd" cx="353" cy="983" r="4"/><text class="nl" x="353" y="985">sdz-20</text></g>
<g id="c25"><circle class="pu" cx="362" cy="971" r="5"/><text class="nl" x="362" y="973">Leu Asp Phe</text></g>
<g id="c24"><circle class="pu" cx="371" cy="958" r="4"/><text class="nl" x="371" y="960">N-Acetyl-D-Lactosamine</text></g>
<g id="c23"><circle class="rd" cx="377" cy="945" r="5.5"/><text class="nl" x="377" y="947">ZC168.2</text></g>
<g id="c22"><circle class="rd" cx="382" cy="930" r="5"/><text class="nl" x="382" y="932">Y46E12A.3</text></g>
<g id="c21"><circle class="pu" cx="386" cy="916" r="4"/><text class="nl" x="386" y="918">Mabioside C</text></g>
<g id="c20"><circle class="rd" cx="388" cy="900" r="7"/><text class="nl" x="388" y="902">T26E4.3</text></g>
<g id="c19"><circle class="rd" cx="388" cy="885" r="6.5"/><text class="nl" x="388" y="887">clec-258</text></g>
<g id="c18"><circle class="pu" cx="388" cy="870" r="5"/><text class="nl" x="388" y="872">Beta-Funaltrexamine</text></g>
<g id="c17"><circle class="pu" cx="386" cy="855" r="5"/><text class="nl" x="386" y="857">(2S,3R)-2-Acetamido-3-Hydroxy-4-Methylpentanoate</text></g>
<g id="c16"><circle class="rd" cx="382" cy="840" r="4"/><text class="nl" x="382" y="842">M04D5.1</text></g>
<g id="c15"><circle class="pu" cx="377" cy="826" r="5"/><text class="nl" x="377" y="828">Carthamoside A1</text></g>
<g id="c14"><circle class="pu" cx="371" cy="812" r="5"/><text class="nl" x="371" y="814">Cloxacillin</text></g>
<g id="c13"><circle class="pu" cx="362" cy="799" r="5"/><text class="nl" x="362" y="801">1-(3,4-Dihydroxy-5-Methyl-2-Oxolanyl)-5-Fluoropyrimidine-2,4-Dione</text></g>
<g id="c12"><circle class="pu" cx="353" cy="787" r="5"/><text class="nl" x="353" y="789">Chrysophanol-9-Anthrone</text></g>
<g id="c11"><circle class="rd" cx="343" cy="776" r="5"/><text class="nl" x="343" y="778">cutl-11</text></g>
<g id="c10"><circle class="pu" cx="332" cy="766" r="5"/><text class="nl" x="332" y="768">Valylarginine</text></g>
<g id="c9"><circle class="pu" cx="319" cy="757" r="5"/><text class="nl" x="319" y="759">Chinenoside Ii</text></g>
<g id="c8"><circle class="pu" cx="306" cy="751" r="5"/><text class="nl" x="306" y="753">Cholylglycinine</text></g>
<g id="c7"><circle class="rd" cx="292" cy="743" r="5"/><text class="nl" x="292" y="745">F12A10.9</text></g>
<g id="c6"><circle class="pu" cx="279" cy="739" r="4"/></g>
<g id="c5"><circle class="rd" cx="263" cy="737" r="8"/></g>
<g id="c4"><circle class="pu" cx="248" cy="734" r="5"/></g>
<g id="c3"><circle class="pu" cx="233" cy="735" r="5"/></g>
<g id="c2"><circle class="rd" cx="218" cy="736" r="6"/><text class="nl" x="226" y="738">nlp-8</text></g>
<g id="c1"><circle class="rd" cx="203" cy="738" r="9"/><text class="nl" x="203" y="740">acdh-1</text></g>
</g>
<g id="c-legend">
<text class="lt" x="437" y="779">group</text>
<circle class="rd" cx="443" cy="791" r="4"/><text class="ll" x="455" y="794">Characteristic genes</text>
<circle class="pu" cx="443" cy="803" r="4"/><text class="ll" x="455" y="806">Characteristic metabolites</text>
<text class="lt" x="437" y="822">degree</text>
<circle cx="453" cy="843" r="12" fill="#000"/><text class="ll" x="472" y="846">17</text>
<line x1="441" y1="867" x2="465" y2="867" stroke="#000" stroke-width="0.8"/><circle cx="453" cy="867" r="5.5" fill="#000"/><text class="ll" x="474" y="869.5">6</text>
<line x1="441" y1="882" x2="465" y2="882" stroke="#000" stroke-width="0.8"/><circle cx="453" cy="882" r="4.2" fill="#000"/><text class="ll" x="474" y="884.5">1</text>
<text class="lt" x="437" y="900">abs_rho</text>
<line x1="439" y1="912" x2="448" y2="912" stroke="#000" stroke-width="2.6"/><text class="ll" x="455" y="914.5">1.00</text>
<line x1="439" y1="925" x2="448" y2="925" stroke="#000" stroke-width="2.1"/><text class="ll" x="455" y="927.5">0.98</text>
<line x1="439" y1="938" x2="448" y2="938" stroke="#000" stroke-width="1.6"/><text class="ll" x="455" y="940.5">0.96</text>
<line x1="439" y1="950" x2="448" y2="950" stroke="#000" stroke-width="1.1"/><text class="ll" x="455" y="952.5">0.94</text>
<text class="lt" x="437" y="970">relation</text>
<line x1="439" y1="982" x2="448" y2="982" stroke="#dbb766" stroke-width="1"/><text class="ll" x="455" y="984.5">positive</text>
<line x1="439" y1="994" x2="448" y2="994" stroke="#a0a0a0" stroke-width="1" stroke-dasharray="3 2"/><text class="ll" x="455" y="996.5">negtive</text>
</g>
</svg>
